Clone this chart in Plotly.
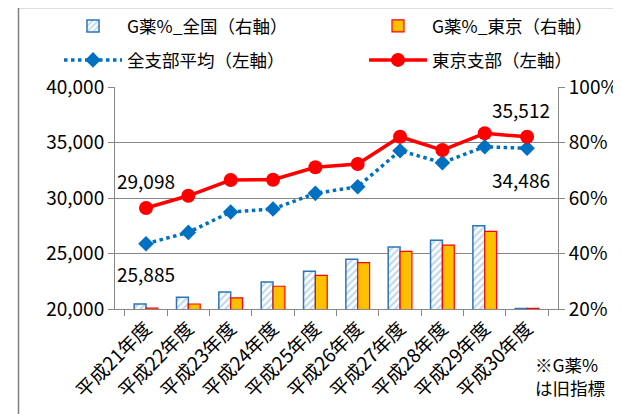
import plotly.graph_objects as go

categories = ["平成21年度", "平成22年度", "平成23年度", "平成24年度", "平成25年度",
              "平成26年度", "平成27年度", "平成28年度", "平成29年度", "平成30年度"]
g_zenkoku = [21.8, 24.2, 26.1, 29.7, 33.6, 37.9, 42.3, 44.8, 50.0, 20.2]
g_tokyo = [20.3, 21.8, 24.0, 28.2, 32.1, 36.7, 40.8, 43.0, 48.0, 20.2]
avg_all = [25885, 26900, 28740, 29010, 30420, 31020, 34260, 33180, 34620, 34486]
tokyo_branch = [29098, 30200, 31620, 31650, 32770, 33060, 35520, 34320, 35830, 35512]

left_ticks = [20000, 25000, 30000, 35000, 40000]
right_ticks = [20, 40, 60, 80, 100]
right_labels = ["20%", "40%", "60%", "80%", "100%"]

FONT = "Noto Sans CJK JP"
GRID = "#878787"

# plot area in screenshot pixels (page has an 8px body margin)
PX0, PX1, PY0, PY1 = 115, 558, 87, 309


def px(x):
    return (x - PX0) / (PX1 - PX0)


def py(y):
    return (PY1 - y) / (PY1 - PY0)


fig = go.Figure()
fig.add_trace(go.Bar(
    x=categories, y=g_zenkoku, name="G薬%_全国（右軸）", yaxis="y", legend="legend",
    marker=dict(color="white", line=dict(color="#2E75B6", width=1.5),
                pattern=dict(shape="/", fgcolor="#7FB2E0", bgcolor="white", size=5, solidity=0.45)),
))
fig.add_trace(go.Bar(
    x=categories, y=g_tokyo, name="G薬%_東京（右軸）", yaxis="y", legend="legend2",
    marker=dict(color="#FFC000", line=dict(color="#FF0000", width=1.2)),
))
fig.add_trace(go.Scatter(
    x=categories, y=avg_all, name="全支部平均（左軸）", yaxis="y2", legend="legend3",
    mode="lines+markers", line=dict(color="#0070C0", width=3.5, dash="dot"),
    marker=dict(symbol="diamond", size=12, color="#0070C0"),
))
fig.add_trace(go.Scatter(
    x=categories, y=tokyo_branch, name="東京支部（左軸）", yaxis="y2", legend="legend4",
    mode="lines+markers", line=dict(color="#FF0000", width=3.5),
    marker=dict(symbol="circle", size=14, color="#FF0000"),
))


def fmt(v):
    return f"{v:,}"


annos = [
    dict(x=categories[0], y=tokyo_branch[0], text=fmt(tokyo_branch[0]), yshift=28),
    dict(x=categories[0], y=avg_all[0], text=fmt(avg_all[0]), yshift=-30),
    dict(x=categories[-1], y=tokyo_branch[-1], text=fmt(tokyo_branch[-1]), yshift=27, xshift=-6),
    dict(x=categories[-1], y=avg_all[-1], text=fmt(avg_all[-1]), yshift=-31, xshift=-6),
]
for a in annos:
    a.update(xref="x", yref="y2", showarrow=False, font=dict(size=19, color="black", family=FONT))
annos.append(dict(xref="paper", yref="paper", x=px(533), y=py(350),
                  xanchor="left", yanchor="top",
                  showarrow=False, align="left", text="※G薬%<br>は旧指標",
                  font=dict(size=17.5, color="black", family=FONT)))

legend_common = dict(orientation="h", xanchor="left", yanchor="middle",
                     bgcolor="rgba(0,0,0,0)", itemwidth=58,
                     font=dict(size=17.5, family=FONT))

fig.update_layout(
    width=621, height=414,
    margin=dict(l=PX0 - 8, r=621 - PX1 + 8, t=PY0 - 8, b=414 - PY1 + 8, autoexpand=False),
    paper_bgcolor="white", plot_bgcolor="white",
    font=dict(family=FONT, color="black", size=16),
    barmode="group", bargap=0.44, bargroupgap=0.0,
    showlegend=True,
    legend=dict(x=px(59), y=py(26), **legend_common),
    legend2=dict(x=px(364), y=py(26), **legend_common),
    legend3=dict(x=px(59), y=py(60), **legend_common),
    legend4=dict(x=px(364), y=py(60), **legend_common),
    xaxis=dict(type="category", tickangle=-45, showgrid=False, showline=True, linecolor=GRID,
               ticks="outside", tickcolor=GRID, ticklen=6, tickson="boundaries", automargin=False,
               tickfont=dict(size=19, family=FONT)),
    yaxis=dict(side="right", range=[20, 100], tickvals=right_ticks, ticktext=right_labels,
               showgrid=True, gridcolor=GRID, gridwidth=1, showline=True, linecolor=GRID,
               ticks="outside", tickcolor=GRID, ticklen=6, zeroline=False, automargin=False,
               tickfont=dict(size=19, family=FONT)),
    yaxis2=dict(side="left", overlaying="y", range=[20000, 40000], tickvals=left_ticks,
                tickformat=",", showgrid=False, showline=True, linecolor=GRID,
                ticks="outside", tickcolor=GRID, ticklen=6, zeroline=False, automargin=False,
                tickfont=dict(size=19, family=FONT)),
    annotations=annos,
    shapes=[
        dict(type="line", xref="paper", yref="paper", x0=px(18), x1=px(640),
             y0=py(7.5), y1=py(7.5), layer="above", line=dict(color="#7F7F7F", width=1.5)),
        dict(type="line", xref="paper", yref="paper", x0=px(18.5), x1=px(18.5),
             y0=py(430), y1=py(7.5), layer="above", line=dict(color="#7F7F7F", width=1.5)),
    ],
)

fig.write_html("out.html")
